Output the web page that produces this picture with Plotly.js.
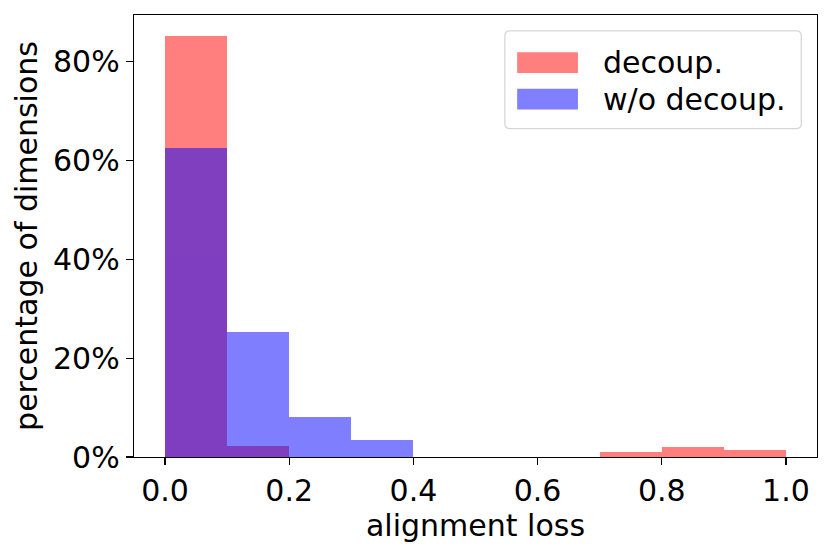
<!DOCTYPE html>
<html>
<head>
<meta charset="utf-8">
<script src="https://cdn.plot.ly/plotly-3.0.1.min.js"></script>
<style>html,body{margin:0;padding:0;background:#fff;}#chart{width:831px;height:553px;}</style>
</head>
<body>
<div id="chart"></div>
<script>
// Histogram bins (alignment loss), bin width 0.1
const binCenters = [0.05, 0.15, 0.25, 0.35, 0.45, 0.55, 0.65, 0.75, 0.85, 0.95];
const binWidth = 0.1;
// percentage of dimensions per bin
const decoupValues = [85.2, 2.2, 0, 0, 0, 0, 0, 1.0, 2.0, 1.4];
const woDecoupValues = [62.5, 25.3, 8.0, 3.4, 0, 0, 0, 0, 0, 0];
const seriesNames = ["decoup.", "w/o decoup."];
const xTicks = [0, 0.2, 0.4, 0.6, 0.8, 1.0];
const xTickLabels = ["0.0", "0.2", "0.4", "0.6", "0.8", "1.0"];
const yTicks = [0, 20, 40, 60, 80];
const yTickLabels = ["0%", "20%", "40%", "60%", "80%"];

const FONT = "DejaVu Sans, sans-serif";
const FS = 30;

const traces = [
  {type: "bar", x: binCenters, y: decoupValues, width: binWidth, name: seriesNames[0],
   marker: {color: "rgb(255,0,0)", line: {width: 0}}, opacity: 0.5, hoverinfo: "skip"},
  {type: "bar", x: binCenters, y: woDecoupValues, width: binWidth, name: seriesNames[1],
   marker: {color: "rgb(0,0,255)", line: {width: 0}}, opacity: 0.5, hoverinfo: "skip"}
];

// Custom legend box (matplotlib style) in paper coordinates
const lx0 = 0.543, lx1 = 0.977, ly0 = 0.743, ly1 = 0.964, rx = 0.0075, ry = 0.0115;
const legendPath = `M ${lx0+rx},${ly0} L ${lx1-rx},${ly0} Q ${lx1},${ly0} ${lx1},${ly0+ry} L ${lx1},${ly1-ry} Q ${lx1},${ly1} ${lx1-rx},${ly1} L ${lx0+rx},${ly1} Q ${lx0},${ly1} ${lx0},${ly1-ry} L ${lx0},${ly0+ry} Q ${lx0},${ly0} ${lx0+rx},${ly0} Z`;

const layout = {
  width: 831, height: 553,
  margin: {l: 134, r: 14, t: 15, b: 96, pad: 0},
  paper_bgcolor: "#fff", plot_bgcolor: "#fff",
  barmode: "overlay", bargap: 0,
  showlegend: false,
  font: {family: FONT, size: FS, color: "#000"},
  xaxis: {
    range: [-0.05, 1.05], tickvals: xTicks, ticktext: xTickLabels,
    ticks: "outside", ticklen: 7, tickwidth: 1.3, tickcolor: "#000",
    showline: true, linecolor: "#000", linewidth: 1.3, mirror: true,
    showgrid: false, zeroline: false,
    tickfont: {family: FONT, size: FS, color: "#000"},
    title: {text: "alignment loss", font: {family: FONT, size: FS, color: "#000"}, standoff: 4},
    fixedrange: true
  },
  yaxis: {
    range: [0, 89.46], tickvals: yTicks, ticktext: yTickLabels,
    ticks: "outside", ticklen: 7, tickwidth: 1.3, tickcolor: "#000",
    showline: true, linecolor: "#000", linewidth: 1.3, mirror: true,
    showgrid: false, zeroline: false,
    tickfont: {family: FONT, size: FS, color: "#000"},
    title: {text: "percentage of dimensions", font: {family: FONT, size: FS, color: "#000"}, standoff: 6},
    fixedrange: true
  },
  shapes: [
    {type: "path", xref: "paper", yref: "paper", path: legendPath,
     fillcolor: "rgba(255,255,255,0.8)", line: {color: "#d6d6d6", width: 1.3}},
    {type: "rect", xref: "paper", yref: "paper", x0: 0.561, x1: 0.650, y0: 0.869, y1: 0.916,
     fillcolor: "rgb(255,0,0)", opacity: 0.5, line: {width: 0}},
    {type: "rect", xref: "paper", yref: "paper", x0: 0.561, x1: 0.650, y0: 0.786, y1: 0.833,
     fillcolor: "rgb(0,0,255)", opacity: 0.5, line: {width: 0}}
  ],
  annotations: [
    {xref: "paper", yref: "paper", x: 0.684, y: 0.8925, xanchor: "left", yanchor: "middle",
     text: seriesNames[0], showarrow: false, font: {family: FONT, size: FS, color: "#000"}},
    {xref: "paper", yref: "paper", x: 0.684, y: 0.8095, xanchor: "left", yanchor: "middle",
     text: seriesNames[1], showarrow: false, font: {family: FONT, size: FS, color: "#000"}}
  ]
};

Plotly.newPlot("chart", traces, layout, {displayModeBar: false, staticPlot: true});
</script>
</body>
</html>
